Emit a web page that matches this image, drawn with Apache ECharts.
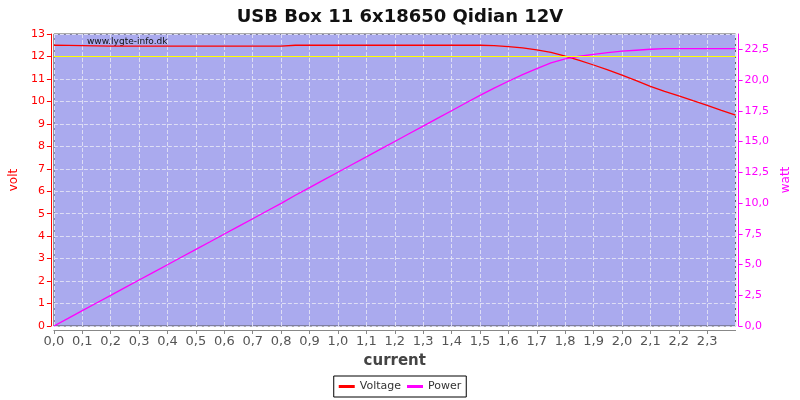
<!DOCTYPE html>
<html><head><meta charset="utf-8">
<script src="https://cdn.jsdelivr.net/npm/echarts@6/dist/echarts.min.js"></script>
<style>html,body{margin:0;padding:0;background:#fff}#c{width:800px;height:400px}</style>
</head><body><div id="c"></div>
<script>
const current = [0,0.05,0.1,0.15,0.2,0.25,0.3,0.35,0.4,0.45,0.5,0.55,0.6,0.65,0.7,0.75,0.8,0.85,0.9,0.95,1.0,1.05,1.1,1.15,1.2,1.25,1.3,1.35,1.4,1.45,1.5,1.55,1.6,1.65,1.7,1.75,1.8,1.85,1.9,1.95,2.0,2.05,2.1,2.15,2.2,2.25,2.3,2.35,2.4];
const voltage = [12.50,12.49,12.48,12.47,12.46,12.46,12.46,12.46,12.46,12.46,12.46,12.46,12.46,12.46,12.46,12.46,12.46,12.50,12.50,12.50,12.50,12.50,12.50,12.50,12.50,12.50,12.50,12.50,12.50,12.50,12.50,12.48,12.44,12.38,12.29,12.18,12.02,11.83,11.62,11.40,11.17,10.92,10.67,10.45,10.25,10.03,9.82,9.60,9.39];
const power = [0,0.62,1.25,1.87,2.49,3.12,3.74,4.36,4.98,5.61,6.23,6.85,7.48,8.10,8.72,9.35,9.97,10.63,11.25,11.88,12.50,13.13,13.75,14.38,15.00,15.63,16.25,16.88,17.50,18.13,18.75,19.34,19.90,20.43,20.93,21.39,21.72,21.93,22.08,22.23,22.34,22.42,22.50,22.55,22.55,22.55,22.55,22.55,22.55];
const refVoltage = 12;
const titleText = 'USB Box 11 6x18650 Qidian 12V';
const fmt = v => v.toFixed(1).replace('.', ',');
const chart = echarts.init(document.getElementById('c'));
chart.setOption({
  animation: false,
  title: {text: titleText, left: 'center', top: 3, textStyle: {fontFamily: 'DejaVu Sans', fontSize: 18, fontWeight: 'bold', color: '#111'}},
  graphic: [{type: 'text', left: 87, top: 37, style: {text: 'www.lygte-info.dk', font: '9px DejaVu Sans', fill: '#111'}}],
  legend: {bottom: 3, left: 'center', itemWidth: 16, itemHeight: 3, borderColor: '#000', borderWidth: 1, borderRadius: 0, padding: [5, 5], itemGap: 6,
    textStyle: {fontFamily: 'DejaVu Sans', fontSize: 11, color: '#333'},
    data: [{name: 'Voltage', icon: 'rect'}, {name: 'Power', icon: 'rect'}]},
  grid: {left: 53, right: 62, top: 34, bottom: 74, show: true, backgroundColor: '#AAAAEE', borderColor: '#555', borderWidth: 1},
  xAxis: {type: 'value', min: 0, max: 2.4, interval: 0.1, offset: 4,
    name: 'current', nameLocation: 'middle', nameGap: 24,
    nameTextStyle: {fontFamily: 'DejaVu Sans', fontSize: 15, fontWeight: 'bold', color: '#444'},
    axisLine: {show: true, onZero: false, lineStyle: {color: '#888'}}, axisTick: {show: true, length: 4, lineStyle: {color: '#888'}},
    axisLabel: {fontFamily: 'DejaVu Sans', fontSize: 13, color: '#555', margin: 5, showMaxLabel: false, formatter: fmt},
    splitLine: {show: true, lineStyle: {color: '#DDDDF5', type: 'dashed', width: 1}}},
  yAxis: [
    {type: 'value', min: 0, max: 13, interval: 1, offset: 3, position: 'left',
      name: 'volt', nameLocation: 'middle', nameGap: 30, nameRotate: 90,
      nameTextStyle: {fontFamily: 'DejaVu Sans', fontSize: 12, color: '#f00'},
      axisLine: {show: true, onZero: false, lineStyle: {color: '#f00'}}, axisTick: {show: true, length: 4, lineStyle: {color: '#f00'}},
      axisLabel: {fontFamily: 'DejaVu Sans', fontSize: 11, color: '#f00', margin: 6},
      splitLine: {show: true, lineStyle: {color: '#DDDDF5', type: 'dashed', width: 1}}},
    {type: 'value', min: 0, max: 23.74, interval: 2.5, offset: 3, position: 'right',
      name: 'watt', nameLocation: 'middle', nameGap: 38, nameRotate: 90,
      nameTextStyle: {fontFamily: 'DejaVu Sans', fontSize: 12, color: '#f0f'},
      axisLine: {show: true, onZero: false, lineStyle: {color: '#f0f'}}, axisTick: {show: true, length: 4, lineStyle: {color: '#f0f'}},
      axisLabel: {fontFamily: 'DejaVu Sans', fontSize: 11, color: '#f0f', margin: 6, showMaxLabel: false, formatter: fmt},
      splitLine: {show: false}}
  ],
  series: [
    {name: 'Voltage', type: 'line', yAxisIndex: 0, showSymbol: false, symbol: 'none', color: '#f00', lineStyle: {width: 1.3},
      data: current.map((c, i) => [c, voltage[i]]),
      markLine: {silent: true, symbol: 'none', label: {show: false}, lineStyle: {color: '#ffff00', type: 'solid', width: 1.2},
        data: [{yAxis: refVoltage}]}},
    {name: 'Power', type: 'line', yAxisIndex: 1, showSymbol: false, symbol: 'none', color: '#f0f', lineStyle: {width: 1.3},
      data: current.map((c, i) => [c, power[i]])}
  ]
});
</script></body></html>
